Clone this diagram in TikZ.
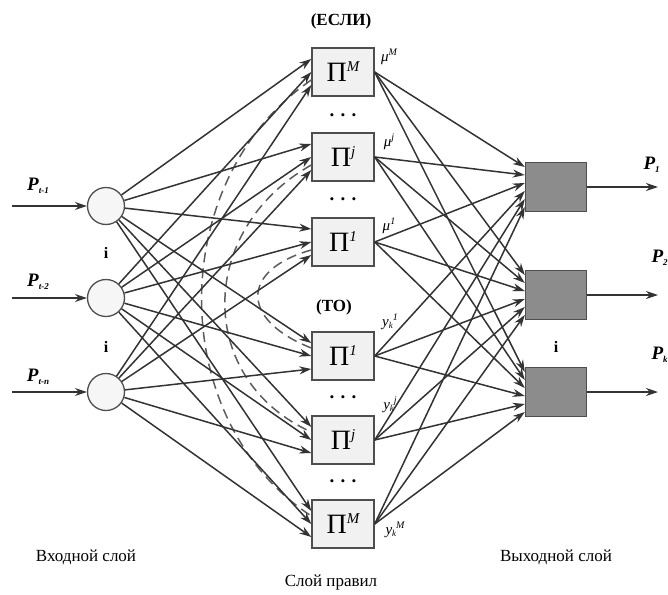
\documentclass[tikz,border=0pt]{standalone}
\usepackage{fontspec}
\setmainfont{Liberation Serif}
\usetikzlibrary{arrows.meta,calc}
\definecolor{linec}{HTML}{333333}
\definecolor{boxline}{HTML}{4E4E4E}
\definecolor{rulefill}{HTML}{F1F1F1}
\definecolor{outfill}{HTML}{8C8C8C}
\definecolor{circfill}{HTML}{F6F6F6}
\newcommand{\Pin}[1]{{\fontsize{19}{19}\selectfont\bfseries\itshape P}{\fontsize{9}{9}\selectfont\bfseries\itshape\raisebox{-3pt}{#1}}}
\newcommand{\rulelabel}[1]{{\fontsize{28}{28}\selectfont Π}{\fontsize{15}{15}\selectfont\itshape\raisebox{10pt}{#1}}}
\newcommand{\ykl}[1]{{\fontsize{15}{15}\selectfont\itshape y}{\fontsize{9}{9}\selectfont\itshape\raisebox{-2pt}{k}}{\fontsize{10}{10}\selectfont\itshape\raisebox{6pt}{#1}}}
\newcommand{\mul}[1]{{\fontsize{15}{15}\selectfont\itshape μ}{\fontsize{10}{10}\selectfont\itshape\raisebox{6pt}{#1}}}
\begin{document}
\begin{tikzpicture}[x=1pt,y=-1pt,
  wire/.style={draw=linec, line width=1.5pt, -{Stealth[length=12pt,width=8pt]}},
  dashwire/.style={draw=linec!80, line width=1.5pt, dash pattern=on 10pt off 6pt},
  inpnode/.style={circle, draw=boxline, line width=1.3pt, fill=circfill, minimum size=37pt, inner sep=0pt},
  rulebox/.style={draw=boxline, line width=1.4pt, fill=rulefill, minimum width=62pt, minimum height=48pt, inner sep=0pt},
  outbox/.style={draw=boxline, line width=1.4pt, fill=outfill, minimum width=61pt, minimum height=49pt, inner sep=0pt},
  dotsl/.style={font=\fontsize{19}{19}\selectfont\bfseries},
  vdot/.style={font=\fontsize{16}{16}\selectfont\bfseries},
  capt/.style={font=\fontsize{17}{17}\selectfont},
  head/.style={font=\fontsize{17}{17}\selectfont\bfseries}
]
\useasboundingbox (0,0) rectangle (668,594);

% input layer
\node[inpnode] (c1) at (106,206) {};
\node[inpnode] (c2) at (106,298) {};
\node[inpnode] (c3) at (106,392) {};
\coordinate (s1) at (12,206);
\coordinate (s2) at (12,298);
\coordinate (s3) at (12,392);
\draw[wire] (s1) -- (c1);
\draw[wire] (s2) -- (c2);
\draw[wire] (s3) -- (c3);
\node (p1) at (38,186) {\Pin{t-1}};
\node (p2) at (38,282) {\Pin{t-2}};
\node (p3) at (38,377) {\Pin{t-n}};
\node[vdot] (v1) at (106,253) {i};
\node[vdot] (v2) at (106,347) {i};

% rule layer
\node[head] (hif) at (341,21) {(ЕСЛИ)};
\node[rulebox] (ifM) at (343,72) {\rulelabel{M}};
\node[dotsl] (d1) at (343,115) {. . .};
\node[rulebox] (ifj) at (343,157) {\rulelabel{j}};
\node[dotsl] (d2) at (343,199) {. . .};
\node[rulebox] (if1) at (343,242) {\rulelabel{1}};
\node[head] (hthen) at (334,307) {(ТО)};
\node[rulebox] (thn1) at (343,356) {\rulelabel{1}};
\node[dotsl] (d3) at (343,397) {. . .};
\node[rulebox] (thnj) at (343,440) {\rulelabel{j}};
\node[dotsl] (d4) at (343,481) {. . .};
\node[rulebox] (thnM) at (343,524) {\rulelabel{M}};

\node (mM) at (389,57) {\mul{M}};
\node (mj) at (389,142) {\mul{j}};
\node (m1) at (389,226) {\mul{1}};
\node (y1) at (390,322) {\ykl{1}};
\node (yj) at (390,405) {\ykl{j}};
\node (yM) at (395,530) {\ykl{M}};

% output layer
\node[outbox] (o1) at (556,187) {};
\node[outbox] (o2) at (556,295) {};
\node[outbox] (o3) at (556,392) {};
\node[vdot] (v3) at (556,347) {i};
\coordinate (e1) at (658,187);
\coordinate (e2) at (658,295);
\coordinate (e3) at (658,392);
\draw[wire] (o1) -- (e1);
\draw[wire] (o2) -- (e2);
\draw[wire] (o3) -- (e3);
\node[anchor=west] (q1) at (640,165) {\Pin{1}};
\node[anchor=west] (q2) at (648,258) {\Pin{2}};
\node[anchor=west] (q3) at (648,355) {\Pin{k}};

% links between rule premises and conclusions
\draw[dashwire] ($(ifM.west)+(0,8)$) .. controls (165,180) and (165,420) .. ($(thnM.west)+(0,-8)$);
\draw[dashwire] ($(ifj.west)+(0,8)$) .. controls (196,230) and (196,380) .. ($(thnj.west)+(0,-8)$);
\draw[dashwire] ($(if1.west)+(0,8)$) .. controls (240,270) and (240,320) .. ($(thn1.west)+(0,-8)$);

% inputs to every rule
\foreach \r in {ifM,ifj,if1,thn1,thnj,thnM}{
  \foreach \c/\o in {c1/-13,c2/0,c3/13}{
    \draw[wire] (\c) -- ($(\r.west)+(0,\o)$);
  }
}

% every rule to every output
\foreach \r [count=\k] in {ifM,ifj,if1,thn1,thnj,thnM}{
  \foreach \t in {o1,o2,o3}{
    \draw[wire] (\r.east) -- ($(\t.west)+(0,-20+8*\k-8)$);
  }
}

% layer captions
\node[capt] (l1) at (86,557) {Входной слой};
\node[capt] (l2) at (331,582) {Слой правил};
\node[capt] (l3) at (556,557) {Выходной слой};
\end{tikzpicture}
\end{document}
